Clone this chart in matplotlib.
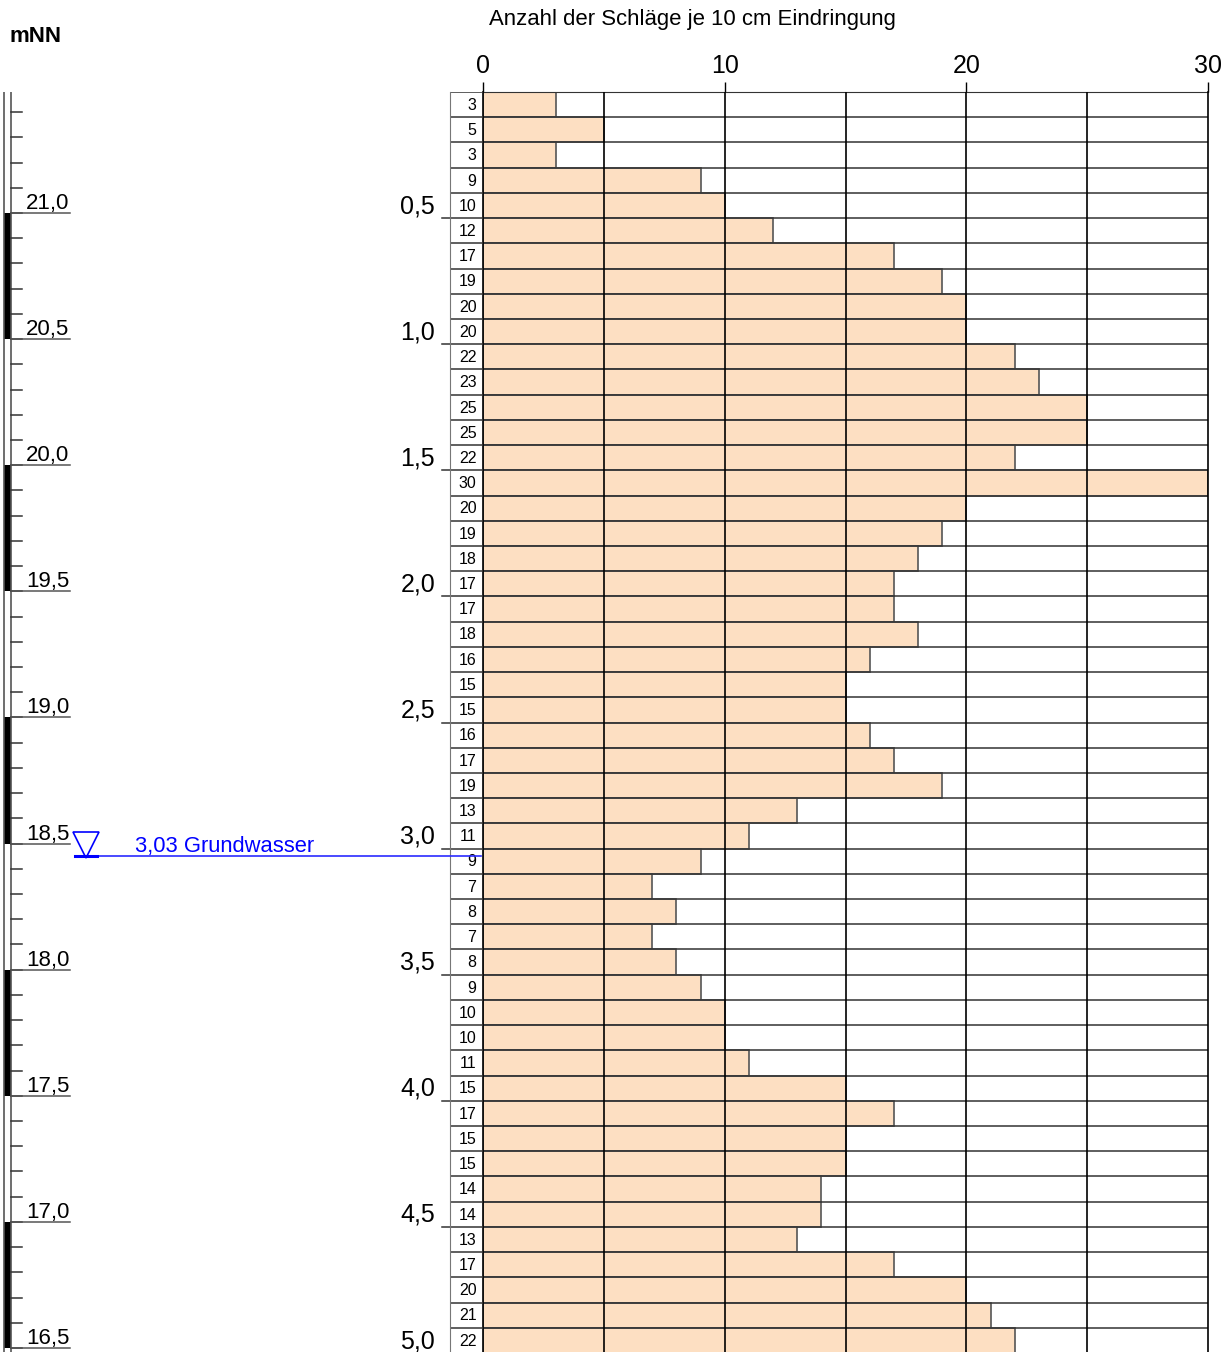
import numpy as np
import matplotlib
matplotlib.use("Agg")
import matplotlib.pyplot as plt
from matplotlib import transforms

plt.rcParams['font.family'] = ['Liberation Sans', 'DejaVu Sans']

# blows per 10 cm penetration, from the surface down to 5.0 m
blows = [3, 5, 3, 9, 10, 12, 17, 19, 20, 20,
         22, 23, 25, 25, 22, 30, 20, 19, 18, 17,
         17, 18, 16, 15, 15, 16, 17, 19, 13, 11,
         9, 7, 8, 7, 8, 9, 10, 10, 11, 15,
         17, 15, 15, 14, 14, 13, 17, 20, 21, 22]
step = 0.1                      # m per row
top_elev = 21.48                # mNN at probe start
gw_depth = 3.03                 # groundwater depth in m
gw_label = "3,03 Grundwasser"
blow_ticks = [0, 10, 20, 30]
depth_ticks = [0.5, 1.0, 1.5, 2.0, 2.5, 3.0, 3.5, 4.0, 4.5, 5.0]
elev_ticks = [21.0, 20.5, 20.0, 19.5, 19.0, 18.5, 18.0, 17.5, 17.0, 16.5]

W, H = 1232, 1352
n = len(blows)
depth_max = n * step
depths = np.arange(n) * step + step / 2
bounds = np.arange(n + 1) * step

peach = '#fddfc2'
fig = plt.figure(figsize=(W / 100, H / 100), dpi=100)


def px_axes(x0, y0, x1, y1):
    # axes placed by pixel box (origin top-left)
    return fig.add_axes([x0 / W, 1 - y1 / H, (x1 - x0) / W, (y1 - y0) / H])


y_top, y_bot = 92, 92 + 252.2 * depth_max

# main bar chart
ax = px_axes(483, y_top, 1208, y_bot)
ax.set_xlim(0, 30)
ax.set_ylim(depth_max, 0)
ax.barh(depths, blows, height=step, color=peach, edgecolor='#555555', linewidth=1.2, zorder=2)
ax.hlines(bounds, 0, 30, color='#333333', linewidth=1.1, zorder=3)
ax.vlines([5, 10, 15, 20, 25], 0, depth_max, color='black', linewidth=1.2, zorder=4)
ax.xaxis.tick_top()
ax.set_xticks(blow_ticks)
ax.set_xticklabels([str(t) for t in blow_ticks], fontsize=18)
ax.tick_params(axis='x', length=7, width=1, pad=3)
ax.set_yticks([])
for s in ['left', 'right']:
    ax.spines[s].set_linewidth(1.2)
    ax.spines[s].set_zorder(5)
ax.spines['bottom'].set_visible(False)
ax.spines['top'].set_color('#333333')

# column with the blow counts as numbers
axc = px_axes(450, y_top, 483, y_bot)
axc.set_xlim(0, 1)
axc.set_ylim(depth_max, 0)
axc.set_facecolor('none')
axc.hlines(bounds, 0, 1, color='#333333', linewidth=1.1)
for d, b in zip(depths, blows):
    axc.text(0.8, d + 0.003, str(b), ha='right', va='center', fontsize=11.5)
axc.set_xticks([])
axc.set_yticks([])
for s in ['top', 'right', 'bottom']:
    axc.spines[s].set_visible(False)
axc.spines['left'].set_color('#777777')
for d in depth_ticks:
    axc.plot([-0.24, 0], [d, d], color='#333333', linewidth=1.1, clip_on=False)
    axc.text(-0.45, d, f"{d:.1f}".replace('.', ','), ha='right', va='baseline',
             fontsize=18, transform=transforms.offset_copy(axc.transData, fig=fig, y=5, units='dots'),
             clip_on=False)

# elevation scale and groundwater
axe = px_axes(0, y_top, 483, y_bot)
axe.set_xlim(0, 483)
axe.set_ylim(top_elev - depth_max, top_elev)
axe.set_facecolor('none')
axe.axis('off')
axe.vlines([3.5, 10.5], top_elev - depth_max, top_elev, color='#555555', linewidth=1.2)
for i, e in enumerate(elev_ticks):
    if i % 2 == 0:
        axe.fill_betweenx([e - 0.5, e], 3.5, 10.5, color='black', linewidth=0)
for e in np.arange(round(top_elev, 1), elev_ticks[-1] - 0.05, -0.1):
    axe.plot([10.5, 22], [e, e], color='#333333', linewidth=1.1)
for e in elev_ticks:
    axe.plot([10.5, 70], [e, e], color='#555555', linewidth=1.1)
    axe.text(26, e, f"{e:.1f}".replace('.', ','), ha='left', va='baseline', fontsize=16,
             transform=transforms.offset_copy(axe.transData, fig=fig, y=4, units='dots'))

gw_elev = top_elev - gw_depth
axe.plot([75, 481], [gw_elev, gw_elev], color='#2b2bff', linewidth=1.2, zorder=6)
axe.plot([75, 97], [gw_elev, gw_elev], color='#0000ff', linewidth=2.2, zorder=6)
axe.plot([86], [gw_elev + 0.043], marker='v', markersize=19, markerfacecolor='none',
         markeredgecolor='#0000ff', markeredgewidth=1.2, zorder=6)
axe.text(135, gw_elev, gw_label, color='#0000ff', fontsize=15.8, ha='left', va='baseline',
         transform=transforms.offset_copy(axe.transData, fig=fig, y=4, units='dots'))

fig.text(692 / W, 1 - 19 / H, "Anzahl der Schläge je 10 cm Eindringung", ha='center', va='center', fontsize=15.9)
fig.text(10 / W, 1 - 36 / H, "mNN", ha='left', va='center', fontsize=16, fontweight='bold')

fig.savefig("out.png", dpi=100)
